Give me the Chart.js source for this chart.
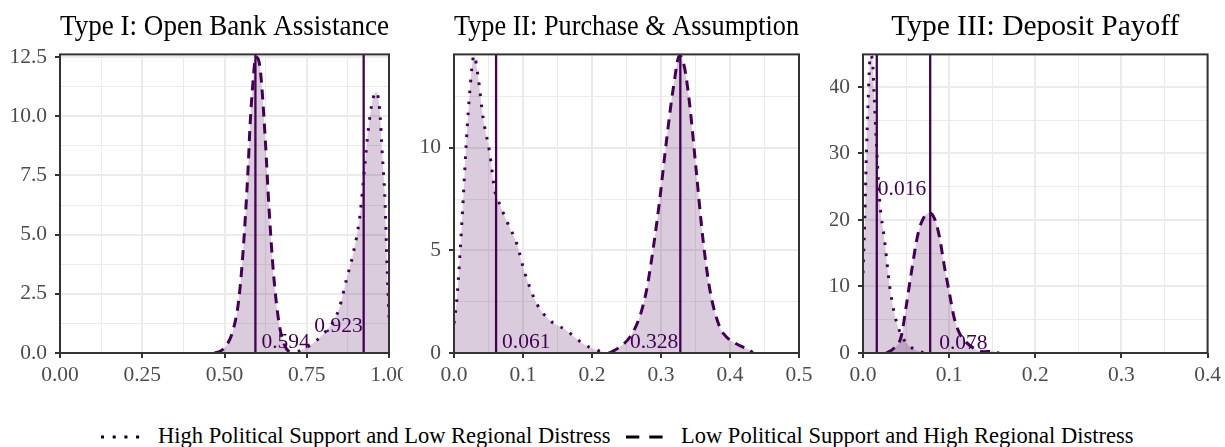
<!DOCTYPE html>
<html>
<head>
<meta charset="utf-8">
<script src="https://cdn.jsdelivr.net/npm/chart.js@4.4.1/dist/chart.umd.min.js"></script>
<style>
    body { margin: 0; background: #fff; width: 1225px; height: 447px; overflow: hidden; position: relative; font-family: 'Liberation Serif', serif; }
    .panel { position: absolute; top: 0; height: 400px; overflow: hidden; }
    .panel canvas { position: absolute; top: 0; left: 0; }
    .key { position: absolute; top: 432px; }
    .legendText { position: absolute; top: 425px; font-size: 22.5px; line-height: 22px; white-space: nowrap; color: #000; }
</style>
</head>
<body>
<div class="panel" style="left:0;width:403px"><canvas id="typeOne" width="440" height="400"></canvas></div>
<div class="panel" style="left:404px;width:426px"><canvas id="typeTwo" width="440" height="400"></canvas></div>
<div class="panel" style="left:830px;width:395px"><canvas id="typeThree" width="395" height="400"></canvas></div>

<svg class="key" style="left:101px" width="40" height="10"><line x1="0" y1="5" x2="40" y2="5" stroke="#000" stroke-width="3" stroke-dasharray="3 8.7"/></svg>
<span class="legendText" style="left:158px">High Political Support and Low Regional Distress</span>
<svg class="key" style="left:626px" width="40" height="10"><line x1="0" y1="5" x2="37" y2="5" stroke="#000" stroke-width="3" stroke-dasharray="13.3 10"/></svg>
<span class="legendText" style="left:681px">Low Political Support and High Regional Distress</span>

<script>
// Type I: Open Bank Assistance
const typeOneHighX = [0.69, 0.72, 0.745, 0.774, 0.80, 0.83, 0.85, 0.87, 0.891, 0.911, 0.926, 0.936, 0.949, 0.962, 0.972, 0.980, 0.987, 0.995, 1.0];
const typeOneHighY = [0, 0.05, 0.2, 0.46, 0.8, 1.31, 1.94, 3.07, 4.19, 5.74, 7.85, 9.3, 10.6, 11.02, 10.2, 8.3, 6.7, 3.35, 1.5];
const typeOneLowX = [0.47, 0.49, 0.506, 0.526, 0.543, 0.556, 0.571, 0.578, 0.587, 0.595, 0.605, 0.612, 0.624, 0.635, 0.649, 0.666, 0.683, 0.698, 0.71];
const typeOneLowY = [0, 0.1, 0.32, 0.96, 2.2, 4.2, 7.6, 9.7, 11.5, 12.5, 12.3, 11.5, 9.0, 6.2, 3.35, 1.24, 0.32, 0.04, 0];
const typeOneMeans = [0.594, 0.923];
const typeOneXTicks = [0, 0.25, 0.5, 0.75, 1];
const typeOneXLabels = ['0.00', '0.25', '0.50', '0.75', '1.00'];
const typeOneYTicks = [0, 2.5, 5, 7.5, 10, 12.5];
const typeOneYLabels = ['0.0', '2.5', '5.0', '7.5', '10.0', '12.5'];

// Type II: Purchase & Assumption
const typeTwoHighX = [0, 0.004, 0.0087, 0.0135, 0.018, 0.023, 0.029, 0.035, 0.042, 0.052, 0.059, 0.064, 0.076, 0.091, 0.103, 0.12, 0.139, 0.163, 0.187, 0.207, 0.226];
const typeTwoHighY = [1.43, 2.56, 4.84, 7.6, 10.36, 12.8, 14.5, 13.44, 11.5, 9.7, 7.92, 7.43, 6.46, 5.32, 3.86, 2.4, 1.59, 1.1, 0.45, 0.13, 0];
const typeTwoLowX = [0.226, 0.24, 0.255, 0.269, 0.279, 0.289, 0.298, 0.308, 0.318, 0.327, 0.334, 0.342, 0.351, 0.361, 0.371, 0.385, 0.395, 0.409, 0.419, 0.429, 0.433];
const typeTwoLowY = [0, 0.29, 0.78, 1.75, 3.05, 5.16, 7.43, 10.36, 12.95, 14.5, 13.93, 11.98, 8.9, 5.49, 3.05, 1.27, 0.78, 0.45, 0.29, 0.13, 0];
const typeTwoMeans = [0.061, 0.328];
const typeTwoXTicks = [0, 0.1, 0.2, 0.3, 0.4, 0.5];
const typeTwoXLabels = ['0.0', '0.1', '0.2', '0.3', '0.4', '0.5'];
const typeTwoYTicks = [0, 5, 10];
const typeTwoYLabels = ['0', '5', '10'];

// Type III: Deposit Payoff
const typeThreeHighX = [0, 0.002, 0.004, 0.006, 0.0085, 0.011, 0.0127, 0.0154, 0.0193, 0.025, 0.031, 0.0367, 0.0424, 0.048, 0.0575, 0.066, 0.075];
const typeThreeHighY = [12, 20, 30, 38, 44.8, 44, 39.5, 32, 23, 17, 10, 5.8, 3.3, 1.9, 0.7, 0.2, 0];
const typeThreeLowX = [0.027, 0.035, 0.0444, 0.05, 0.056, 0.064, 0.071, 0.077, 0.083, 0.0887, 0.0945, 0.1003, 0.106, 0.112, 0.12, 0.13, 0.14, 0.15, 0.158];
const typeThreeLowY = [0, 0.6, 2.5, 6.9, 12, 18, 20.5, 21.1, 20.2, 17.5, 13, 9, 5.2, 3, 1.6, 0.6, 0.2, 0.25, 0];
const typeThreeMeans = [0.016, 0.078];
const typeThreeXTicks = [0, 0.1, 0.2, 0.3, 0.4];
const typeThreeXLabels = ['0.0', '0.1', '0.2', '0.3', '0.4'];
const typeThreeYTicks = [0, 10, 20, 30, 40];
const typeThreeYLabels = ['0', '10', '20', '30', '40'];

const purple = '#440154';
const purpleFill = 'rgba(68, 1, 84, 0.2)';
const serif = 'Liberation Serif';

const pairs = (xs, ys) => xs.map((x, i) => ({ x: x, y: ys[i] }));

// major ticks plus ggplot-style minor ticks half way between
function withMinor(major, max) {
    const step = major[1] - major[0];
    const all = [];
    major.forEach(v => {
        all.push(v);
        if (v + step / 2 <= max) all.push(v + step / 2);
    });
    return all;
}

const frame = {
    id: 'frame',
    afterDraw(chart) {
        const { ctx, chartArea: a } = chart;
        ctx.save();
        ctx.strokeStyle = '#333333';
        ctx.lineWidth = 2;
        ctx.strokeRect(a.left, a.top, a.right - a.left, a.bottom - a.top);
        ctx.restore();
    }
};

const meanLabels = {
    id: 'meanLabels',
    afterDraw(chart, args, opts) {
        const ctx = chart.ctx;
        const xs = chart.scales.x, ys = chart.scales.y;
        ctx.save();
        ctx.font = '21.5px "' + serif + '"';
        ctx.fillStyle = purple;
        ctx.textBaseline = 'middle';
        opts.items.forEach(it => {
            ctx.textAlign = it.align;
            ctx.fillText(it.value.toFixed(3), xs.getPixelForValue(it.value) + it.dx, ys.getPixelForValue(it.y));
        });
        ctx.restore();
    }
};

function axis(major, labels, max, side, size) {
    const isMajor = v => major.some(m => Math.abs(m - v) < 1e-9);
    return {
        type: 'linear',
        min: 0,
        max: max,
        afterBuildTicks: s => { s.ticks = withMinor(major, max).map(v => ({ value: v })); },
        afterFit: s => { if (side === 'x') s.height = size; else s.width = size; },
        grid: {
            color: '#ebebeb',
            lineWidth: c => isMajor(c.tick.value) ? 2 : 1,
            tickColor: c => isMajor(c.tick.value) ? '#333333' : 'rgba(0,0,0,0)',
            tickWidth: 2,
            tickLength: 5
        },
        border: { display: false },
        ticks: {
            autoSkip: false,
            maxRotation: 0,
            padding: side === 'x' ? 4 : 8,
            color: '#4d4d4d',
            font: { family: serif, size: 21.5 },
            callback: v => {
                const i = major.findIndex(m => Math.abs(m - v) < 1e-9);
                return i >= 0 ? labels[i] : '';
            }
        }
    };
}

function panel(id, cfg) {
    const vlines = cfg.means.map(m => ({
        data: [{ x: m, y: 0 }, { x: m, y: cfg.yMax }],
        borderColor: purple,
        borderWidth: 2.3,
        pointRadius: 0,
        fill: false,
        order: 0
    }));
    new Chart(document.getElementById(id), {
        type: 'line',
        data: {
            datasets: [
                {
                    label: 'High Political Support and Low Regional Distress',
                    data: pairs(cfg.highX, cfg.highY),
                    borderColor: purple,
                    backgroundColor: purpleFill,
                    borderWidth: 3,
                    borderDash: [2.6, 8.4],
                    pointRadius: 0,
                    fill: 'origin',
                    cubicInterpolationMode: 'monotone',
                    order: 1
                },
                {
                    label: 'Low Political Support and High Regional Distress',
                    data: pairs(cfg.lowX, cfg.lowY),
                    borderColor: purple,
                    backgroundColor: purpleFill,
                    borderWidth: 3,
                    borderDash: [10, 7],
                    pointRadius: 0,
                    fill: 'origin',
                    cubicInterpolationMode: 'monotone',
                    order: 1
                }
            ].concat(vlines)
        },
        options: {
            responsive: false,
            animation: false,
            layout: { padding: { left: 0, right: cfg.padRight, top: 0, bottom: 7 } },
            scales: {
                x: axis(cfg.xTicks, cfg.xLabels, cfg.xMax, 'x', 40),
                y: axis(cfg.yTicks, cfg.yLabels, cfg.yMax, 'y', cfg.yWidth)
            },
            plugins: {
                legend: { display: false },
                tooltip: { enabled: false },
                title: {
                    display: true,
                    text: cfg.title,
                    fullSize: false,
                    color: '#000',
                    padding: { top: 10, bottom: 9 },
                    font: { family: serif, size: 29.5, weight: 'normal', lineHeight: 1.2 }
                },
                meanLabels: { items: cfg.labels }
            }
        },
        plugins: [frame, meanLabels]
    });
}

panel('typeOne', {
    title: 'Type I: Open Bank Assistance',
    highX: typeOneHighX, highY: typeOneHighY, lowX: typeOneLowX, lowY: typeOneLowY,
    means: typeOneMeans,
    xTicks: typeOneXTicks, xLabels: typeOneXLabels, xMax: 1,
    yTicks: typeOneYTicks, yLabels: typeOneYLabels, yMax: 12.61,
    yWidth: 60, padRight: 51,
    labels: [
        { value: typeOneMeans[0], y: 0.47, align: 'left', dx: 6 },
        { value: typeOneMeans[1], y: 1.13, align: 'right', dx: -1 }
    ]
});

panel('typeTwo', {
    title: 'Type II: Purchase & Assumption',
    highX: typeTwoHighX, highY: typeTwoHighY, lowX: typeTwoLowX, lowY: typeTwoLowY,
    means: typeTwoMeans,
    xTicks: typeTwoXTicks, xLabels: typeTwoXLabels, xMax: 0.5,
    yTicks: typeTwoYTicks, yLabels: typeTwoYLabels, yMax: 14.55,
    yWidth: 50, padRight: 45,
    labels: [
        { value: typeTwoMeans[0], y: 0.54, align: 'left', dx: 6 },
        { value: typeTwoMeans[1], y: 0.54, align: 'right', dx: -2 }
    ]
});

panel('typeThree', {
    title: 'Type III: Deposit Payoff',
    highX: typeThreeHighX, highY: typeThreeHighY, lowX: typeThreeLowX, lowY: typeThreeLowY,
    means: typeThreeMeans,
    xTicks: typeThreeXTicks, xLabels: typeThreeXLabels, xMax: 0.4,
    yTicks: typeThreeYTicks, yLabels: typeThreeYLabels, yMax: 44.9,
    yWidth: 33, padRight: 16,
    labels: [
        { value: typeThreeMeans[0], y: 24.6, align: 'left', dx: 1 },
        { value: typeThreeMeans[1], y: 1.5, align: 'left', dx: 9 }
    ]
});
</script>
</body>
</html>
